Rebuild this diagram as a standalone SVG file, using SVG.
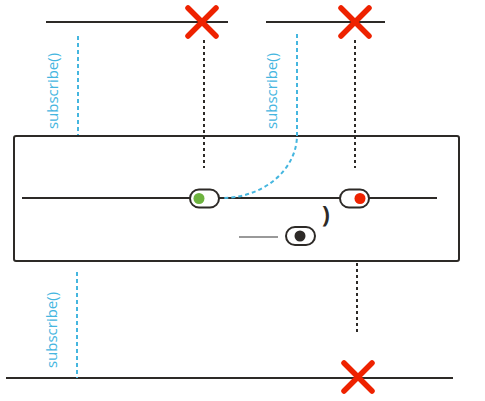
<svg xmlns="http://www.w3.org/2000/svg" width="485" height="401" viewBox="0 0 485 401">
<style>
.line{stroke:#2d2a27;stroke-width:2;fill:none}
.dot{stroke:#2d2a27;stroke-width:2;stroke-dasharray:3 3;fill:none}
.sub{stroke:#45b6df;stroke-width:2;stroke-dasharray:4 3;fill:none}
.x{stroke:#ee2200;stroke-width:5.5;stroke-linecap:round;fill:none}
.lbl{font-family:"Open Sans",sans-serif;font-size:15px;fill:#45b6df;text-anchor:middle}
.pill{fill:#fff;stroke:#2d2a27;stroke-width:2}
</style>
<rect width="485" height="401" fill="#fff"/>
<g id="timeline-top-1">
<line class="line" x1="46" y1="22" x2="228" y2="22"/>
<path class="x" d="M188,8 L216,36 M216,8 L188,36"/>
</g>
<g id="timeline-top-2">
<line class="line" x1="266" y1="22" x2="385" y2="22"/>
<path class="x" d="M341,8 L369,36 M369,8 L341,36"/>
</g>
<g id="box">
<rect x="14" y="136" width="445" height="125" rx="2" class="line"/>
<line class="line" x1="22" y1="198" x2="437" y2="198"/>
<line x1="239" y1="237" x2="278" y2="237" stroke="#777" stroke-width="1.5"/>
<text x="326" y="223" font-family="'Open Sans',sans-serif" font-size="23" font-weight="bold" fill="#2d2a27" text-anchor="middle">)</text>
</g>
<g id="pill-green">
<rect class="pill" x="190" y="189.5" width="29" height="18" rx="9"/>
<circle cx="199" cy="198.5" r="5.5" fill="#6db33f"/>
</g>
<g id="pill-red">
<rect class="pill" x="340" y="189.5" width="29" height="18" rx="9"/>
<circle cx="360" cy="198.5" r="5.5" fill="#ee2200"/>
</g>
<g id="pill-black">
<rect class="pill" x="286" y="227" width="29" height="18" rx="9"/>
<circle cx="300" cy="236" r="5.5" fill="#2d2a27"/>
</g>
<g id="timeline-bottom">
<line class="line" x1="6" y1="378" x2="453" y2="378"/>
<path class="x" d="M344,363 L372,391 M372,363 L344,391"/>
</g>
<g id="connectors">
<line class="dot" x1="204" y1="40" x2="204" y2="168"/>
<line class="dot" x1="355" y1="40" x2="355" y2="168"/>
<line class="dot" x1="357" y1="263" x2="357" y2="335"/>
<line class="sub" x1="78" y1="36" x2="78" y2="135"/>
<path class="sub" d="M297,34 V135 A75,63 0 0 1 222,198"/>
<line class="sub" x1="77" y1="272" x2="77" y2="378"/>
</g>
<g id="labels">
<text class="lbl" transform="translate(58,91) rotate(-90)">subscribe()</text>
<text class="lbl" transform="translate(277,91) rotate(-90)">subscribe()</text>
<text class="lbl" transform="translate(57,330) rotate(-90)">subscribe()</text>
</g>
</svg>
